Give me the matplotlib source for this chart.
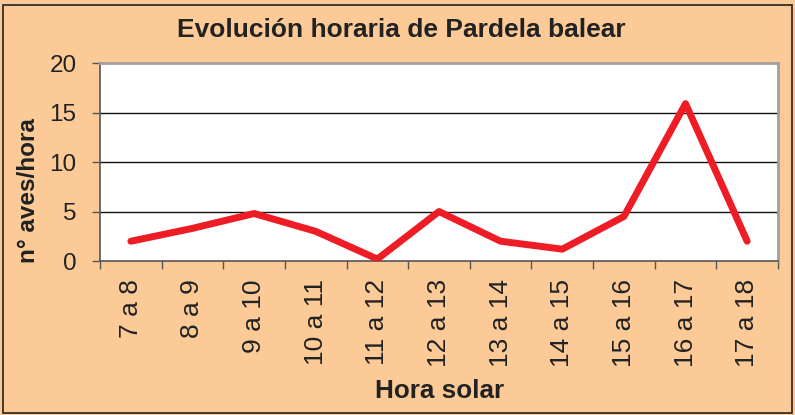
import matplotlib
matplotlib.use("Agg")
import matplotlib.pyplot as plt
from matplotlib.patches import Rectangle
import numpy as np

categories = ["7 a 8", "8 a 9", "9 a 10", "10 a 11", "11 a 12", "12 a 13",
              "13 a 14", "14 a 15", "15 a 16", "16 a 17", "17 a 18"]
values = [2.0, 3.3, 4.8, 3.0, 0.2, 5.0, 2.0, 1.2, 4.5, 15.9, 2.0]
yticks = [0, 5, 10, 15, 20]

plt.rcParams['font.family'] = ['Liberation Sans', 'DejaVu Sans']

bg = "#FBCA97"
fig = plt.figure(figsize=(7.95, 4.15), dpi=100, facecolor=bg)
fig.patches.append(Rectangle((0.004, 0.006), 0.992, 0.982, transform=fig.transFigure,
                             fill=False, edgecolor="#222222", linewidth=1.2))

ax = fig.add_axes([0.1258, 0.371, 0.8528, 0.477])
ax.set_facecolor("white")
n = len(categories)
x = np.arange(n)
ax.plot(x, values, color="#EE1C25", linewidth=5, solid_capstyle="round",
        solid_joinstyle="round", zorder=3)
ax.set_xlim(-0.5, n - 0.5)
ax.set_ylim(0, 20)
ax.set_yticks(yticks)
ax.set_yticklabels([str(v) for v in yticks], fontsize=17.5, color="#222222")
for v in yticks[1:-1]:
    ax.axhline(v, color="#111111", linewidth=1.0, zorder=1)

ax.set_xticks(np.arange(-0.5, n, 1.0))
ax.set_xticklabels([])
ax.set_xticks(x, minor=True)
ax.set_xticklabels(categories, minor=True, rotation=90, fontsize=19, color="#222222")
ax.tick_params(axis='x', which='minor', length=0, pad=13)
ax.tick_params(axis='x', which='major', length=6, width=1.0, color="#555555", direction='out')
ax.tick_params(axis='y', length=6, width=1.0, color="#555555", direction='out', pad=11)

for s in ["left", "bottom"]:
    ax.spines[s].set_color("#555555")
    ax.spines[s].set_linewidth(1.2)
for s in ["top", "right"]:
    ax.spines[s].set_color("#A0A0A0")
    ax.spines[s].set_linewidth(2.0)

fig.text(0.505, 0.928, "Evolución horaria de Pardela balear", ha="center", va="center",
         fontsize=19, fontweight="bold", color="#222222")
fig.text(0.553, 0.057, "Hora solar", ha="center", va="center",
         fontsize=18.8, fontweight="bold", color="#222222")
fig.text(0.036, 0.541, "n° aves/hora", ha="center", va="center", rotation=90,
         fontsize=17.5, fontweight="bold", color="#222222")

fig.savefig("out.png", dpi=100, facecolor=bg)
